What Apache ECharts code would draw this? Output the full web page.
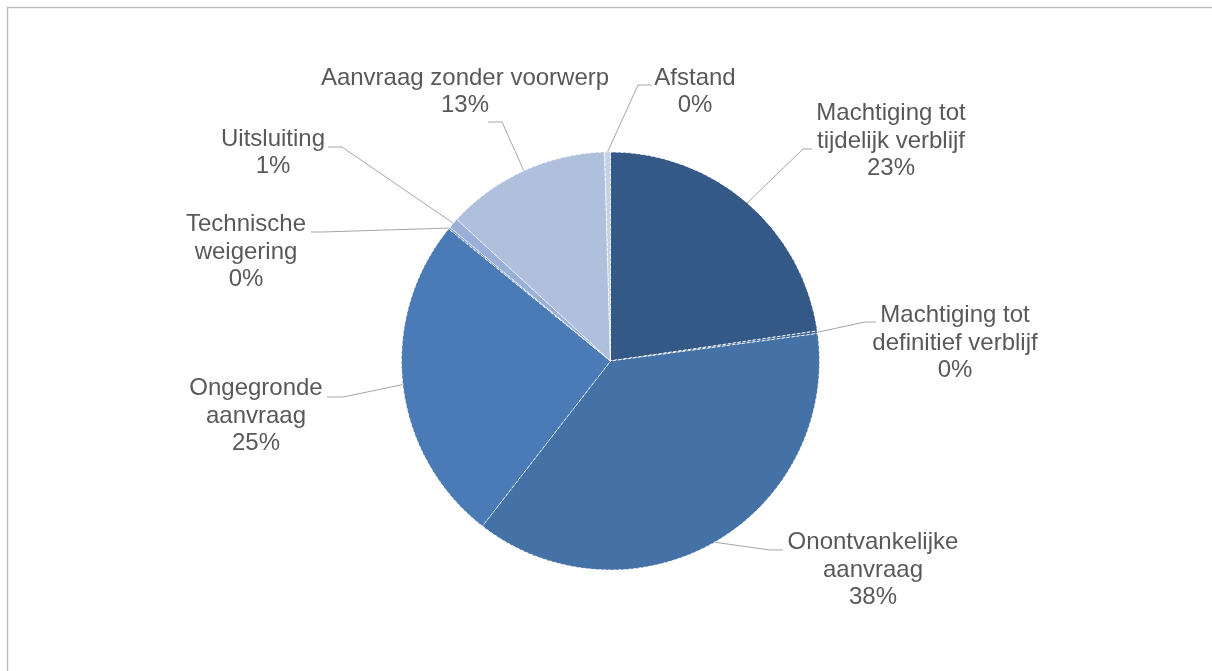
<!DOCTYPE html>
<html>
<head>
<meta charset="utf-8">
<script src="https://cdn.jsdelivr.net/npm/echarts@6/dist/echarts.min.js"></script>
<style>
  html, body { margin: 0; padding: 0; background: #ffffff; }
  #chart { width: 1212px; height: 671px; }
</style>
</head>
<body>
<div id="chart"></div>
<script>
// ---- data ----
const categories = [
  'Machtiging tot\ntijdelijk verblijf',
  'Machtiging tot\ndefinitief verblijf',
  'Onontvankelijke\naanvraag',
  'Ongegronde\naanvraag',
  'Technische\nweigering',
  'Uitsluiting',
  'Aanvraag zonder voorwerp',
  'Afstand'
];
const shares = [22.7, 0.2, 37.6, 25.4, 0.15, 0.8, 12.7, 0.45];

// ---- styling / layout ----
const sliceColors = ['#355986', '#3d6697', '#4472a6', '#4a7bb7', '#7f9ccc', '#9aafd8', '#afc0dc', '#c6d1e7'];
// label block centres and leader line elbow/end points (layout only)
const labelCenters = [[891, 141], [955, 343], [873, 570], [256, 416], [246, 252], [273, 153], [465, 92], [695, 92]];
const leaderBends = [
  [[803, 149], [812, 149]],
  [[865, 322], [876, 322]],
  [[770, 550], [783, 550]],
  [[343, 397], [327, 397]],
  [[322, 232], [311, 232]],
  [[342, 147], [328, 147]],
  [[502, 122], [488, 122]],
  [[638, 85], [652, 85]]
];

const chart = echarts.init(document.getElementById('chart'), null, { renderer: 'canvas' });
chart.setOption({
  animation: false,
  backgroundColor: '#ffffff',
  graphic: [{
    type: 'rect',
    shape: { x: 7.5, y: 7.5, width: 1400, height: 900 },
    style: { fill: 'none', stroke: '#bfbfbf', lineWidth: 1.5 },
    silent: true
  }],
  series: [{
    type: 'pie',
    center: [610.5, 361],
    radius: [0, 209],
    startAngle: 90,
    clockwise: true,
    avoidLabelOverlap: false,
    emphasis: { disabled: true },
    itemStyle: { borderColor: 'rgba(255,255,255,0.85)', borderWidth: 1, borderType: [3, 2] },
    label: {
      show: true,
      position: 'outside',
      fontFamily: 'Liberation Sans, Arial, sans-serif',
      fontSize: 24,
      lineHeight: 27.6,
      color: '#595959',
      align: 'center',
      formatter: p => p.name + '\n' + Math.round(p.percent) + '%'
    },
    labelLine: { show: true, lineStyle: { color: '#a6a6a6', width: 1 } },
    labelLayout: function (params) {
      const i = params.dataIndex;
      const start = params.labelLinePoints ? params.labelLinePoints[0] : null;
      const out = {
        x: labelCenters[i][0],
        y: labelCenters[i][1],
        align: 'center',
        verticalAlign: 'middle'
      };
      if (start) {
        out.labelLinePoints = [start, leaderBends[i][0], leaderBends[i][1]];
      }
      return out;
    },
    data: categories.map((c, i) => ({
      name: c,
      value: shares[i],
      itemStyle: { color: sliceColors[i] }
    }))
  }]
});
</script>
</body>
</html>
